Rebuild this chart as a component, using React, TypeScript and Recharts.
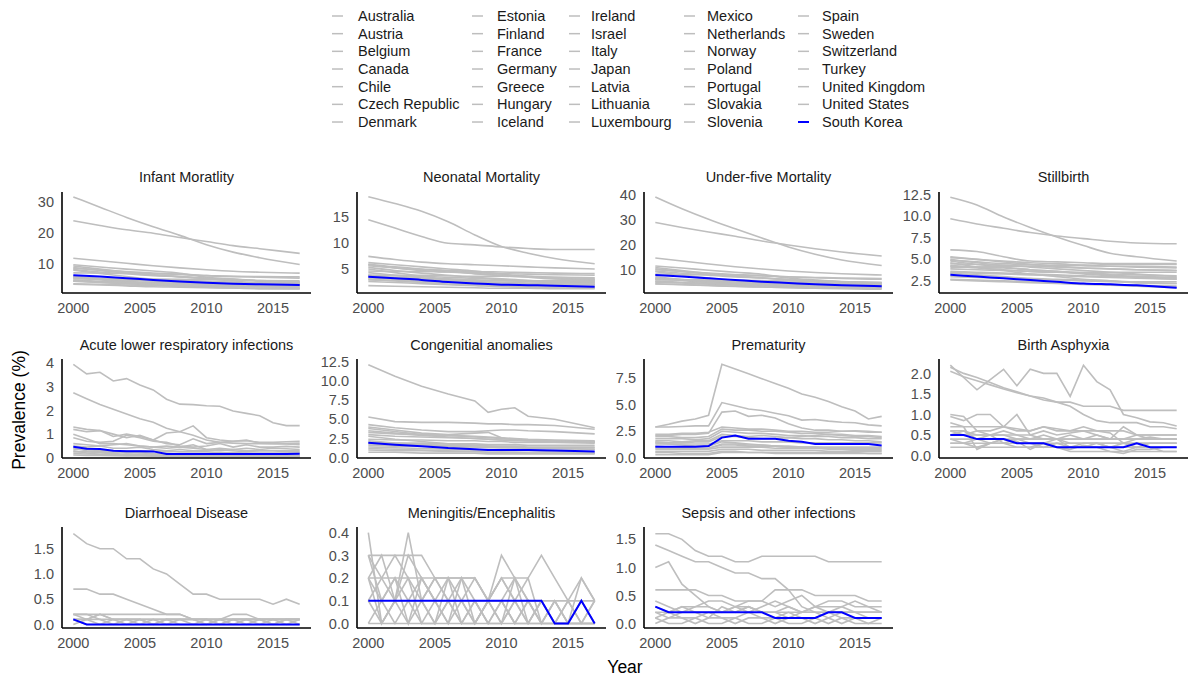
import { LineChart, Line, XAxis, YAxis } from "recharts";

const FONT = "'Liberation Sans', Arial, sans-serif";
const GREY = "#bebebe";
const BLUE = "#0000ff";
const KOREA = "South Korea";

// legend order (column-major, 7 rows)
const COUNTRIES = [
  "Australia", "Austria", "Belgium", "Canada", "Chile", "Czech Republic", "Denmark",
  "Estonia", "Finland", "France", "Germany", "Greece", "Hungary", "Iceland",
  "Ireland", "Israel", "Italy", "Japan", "Latvia", "Lithuania", "Luxembourg",
  "Mexico", "Netherlands", "Norway", "Poland", "Portugal", "Slovakia", "Slovenia",
  "Spain", "Sweden", "Switzerland", "Turkey", "United Kingdom", "United States", KOREA,
];

const YEARS = [2000, 2001, 2002, 2003, 2004, 2005, 2006, 2007, 2008, 2009, 2010, 2011, 2012, 2013, 2014, 2015, 2016, 2017];
const YEARS_COARSE = [2000, 2002, 2004, 2006, 2008, 2010, 2012, 2014, 2017];
const YEARS_CONGENITAL = [2000, 2002, 2004, 2006, 2008, 2009, 2010, 2011, 2012, 2014, 2017];
const X_TICKS = [2000, 2005, 2010, 2015];

type Series = [string, number[]];

const INFANT: Series[] = [
  ["Turkey", [31.6, 28.3, 25.0, 22.0, 19.2, 16.2, 13.8, 12.0, 9.8]],
  ["Mexico", [23.9, 22.4, 21.0, 19.9, 18.5, 17.2, 15.9, 14.9, 13.4]],
  ["Chile", [11.8, 11.0, 10.2, 9.4, 8.7, 8.1, 7.6, 7.3, 7.0]],
  ["Latvia", [9.7, 9.0, 8.3, 7.7, 7.0, 5.7, 5.1, 4.6, 4.2]],
  ["Hungary", [9.3, 8.3, 7.4, 6.4, 5.8, 5.4, 5.1, 4.5, 4.0]],
  ["Lithuania", [8.8, 7.9, 7.0, 6.5, 5.9, 5.2, 4.5, 3.8, 3.4]],
  ["Slovakia", [8.6, 8.0, 7.5, 7.0, 6.7, 6.2, 5.9, 5.7, 5.4]],
  ["Poland", [8.2, 7.4, 6.8, 6.2, 5.9, 5.3, 4.8, 4.4, 4.1]],
  ["Estonia", [8.0, 6.9, 5.9, 5.0, 4.3, 3.5, 3.0, 2.6, 2.3]],
  ["United States", [7.1, 7.0, 6.9, 6.8, 6.6, 6.2, 6.0, 5.9, 5.8]],
  ["Greece", [6.1, 5.2, 4.4, 4.0, 3.7, 3.6, 3.5, 3.5, 3.6]],
  ["Portugal", [5.8, 4.9, 4.1, 3.6, 3.4, 3.1, 3.0, 3.0, 3.0]],
  ["United Kingdom", [5.6, 5.3, 5.1, 4.9, 4.7, 4.4, 4.1, 3.9, 3.8]],
  ["Israel", [5.6, 5.2, 4.8, 4.4, 4.0, 3.7, 3.5, 3.2, 3.1]],
  ["Canada", [5.3, 5.3, 5.2, 5.1, 5.0, 4.9, 4.8, 4.6, 4.5]],
  ["Australia", [5.2, 5.0, 4.8, 4.6, 4.3, 4.0, 3.7, 3.4, 3.2]],
  ["Italy", [4.8, 4.4, 4.0, 3.7, 3.5, 3.2, 3.0, 2.9, 2.8]],
  ["Slovenia", [4.6, 4.1, 3.6, 3.2, 2.8, 2.5, 2.2, 2.0, 2.0]],
  ["France", [4.4, 4.2, 4.0, 3.8, 3.6, 3.5, 3.5, 3.5, 3.4]],
  ["Czech Republic", [4.4, 4.0, 3.6, 3.3, 3.0, 2.8, 2.7, 2.6, 2.6]],
  ["Finland", [3.6, 3.4, 3.2, 3.0, 2.7, 2.5, 2.3, 2.1, 2.0]],
  ["Japan", [3.4, 3.2, 2.9, 2.6, 2.5, 2.3, 2.2, 2.1, 2.0]],
  [KOREA, [6.3, 5.9, 5.4, 4.8, 4.3, 3.9, 3.6, 3.4, 3.2]],
];

const NEONATAL: Series[] = [
  ["Turkey", [18.8, 17.5, 16.0, 14.0, 11.5, 9.3, 8.0, 7.0, 6.0]],
  ["Mexico", [14.4, 12.8, 11.2, 9.9, 9.6, 9.2, 8.9, 8.7, 8.7]],
  ["Chile", [7.4, 6.8, 6.3, 6.0, 5.8, 5.6, 5.4, 5.2, 5.0]],
  ["Latvia", [6.2, 5.8, 5.4, 5.0, 4.6, 4.0, 3.6, 3.2, 3.0]],
  ["Hungary", [5.9, 5.4, 5.0, 4.6, 4.1, 3.8, 3.6, 3.4, 3.2]],
  ["Poland", [5.8, 5.2, 4.7, 4.4, 4.1, 3.7, 3.4, 3.1, 2.8]],
  ["Slovakia", [5.6, 5.2, 4.9, 4.7, 4.5, 4.4, 4.3, 4.2, 4.1]],
  ["Lithuania", [5.3, 4.7, 4.2, 3.8, 3.4, 3.1, 2.8, 2.6, 2.4]],
  ["Estonia", [5.0, 4.3, 3.6, 3.0, 2.6, 2.2, 1.8, 1.6, 1.5]],
  ["United States", [4.6, 4.5, 4.5, 4.4, 4.3, 4.1, 4.0, 3.9, 3.8]],
  ["Greece", [4.3, 3.8, 3.3, 3.0, 2.8, 2.7, 2.7, 2.8, 2.9]],
  ["Canada", [3.8, 3.8, 3.8, 3.7, 3.6, 3.6, 3.5, 3.4, 3.3]],
  ["United Kingdom", [3.8, 3.7, 3.6, 3.4, 3.2, 3.0, 2.8, 2.7, 2.6]],
  ["Portugal", [3.8, 3.2, 2.7, 2.4, 2.2, 2.1, 2.1, 2.1, 2.1]],
  ["Israel", [3.6, 3.3, 3.0, 2.8, 2.6, 2.4, 2.2, 2.1, 2.0]],
  ["Australia", [3.5, 3.4, 3.2, 3.1, 2.9, 2.8, 2.6, 2.4, 2.3]],
  ["Italy", [3.3, 3.0, 2.8, 2.6, 2.4, 2.3, 2.1, 2.0, 2.0]],
  ["Czech Republic", [3.1, 2.7, 2.4, 2.1, 1.9, 1.8, 1.7, 1.7, 1.7]],
  ["France", [2.9, 2.8, 2.6, 2.5, 2.4, 2.4, 2.5, 2.5, 2.6]],
  ["Finland", [2.6, 2.4, 2.2, 2.0, 1.8, 1.6, 1.5, 1.4, 1.3]],
  ["Japan", [1.8, 1.7, 1.6, 1.5, 1.4, 1.3, 1.3, 1.2, 1.2]],
  [KOREA, [3.5, 3.2, 2.9, 2.5, 2.2, 2.0, 1.9, 1.8, 1.6]],
];

const UNDER_FIVE: Series[] = [
  ["Turkey", [39.2, 34.5, 30.3, 26.5, 22.8, 19.2, 16.3, 14.0, 11.8]],
  ["Mexico", [29.0, 27.0, 25.2, 23.5, 21.6, 20.0, 18.5, 17.2, 15.6]],
  ["Chile", [14.8, 13.6, 12.4, 11.3, 10.4, 9.6, 9.0, 8.5, 8.0]],
  ["Latvia", [11.6, 10.8, 9.9, 9.1, 8.3, 6.8, 6.0, 5.4, 4.9]],
  ["Hungary", [11.0, 9.8, 8.6, 7.5, 6.8, 6.3, 5.9, 5.3, 4.7]],
  ["Lithuania", [10.5, 9.4, 8.3, 7.6, 6.9, 6.0, 5.2, 4.5, 4.0]],
  ["Slovakia", [10.1, 9.4, 8.8, 8.2, 7.8, 7.3, 6.9, 6.6, 6.3]],
  ["Poland", [9.6, 8.7, 7.9, 7.2, 6.8, 6.1, 5.5, 5.1, 4.7]],
  ["Estonia", [9.3, 8.0, 6.8, 5.8, 5.0, 4.1, 3.5, 3.0, 2.7]],
  ["United States", [8.4, 8.2, 8.1, 7.9, 7.6, 7.2, 7.0, 6.8, 6.6]],
  ["Greece", [7.3, 6.2, 5.3, 4.8, 4.4, 4.3, 4.2, 4.2, 4.3]],
  ["Portugal", [6.9, 5.8, 4.9, 4.3, 4.0, 3.7, 3.5, 3.5, 3.6]],
  ["Israel", [6.6, 6.1, 5.6, 5.2, 4.7, 4.4, 4.1, 3.8, 3.6]],
  ["United Kingdom", [6.5, 6.2, 5.9, 5.7, 5.4, 5.1, 4.8, 4.5, 4.3]],
  ["Canada", [6.2, 6.1, 6.0, 5.9, 5.8, 5.6, 5.5, 5.3, 5.1]],
  ["Australia", [6.1, 5.9, 5.6, 5.3, 5.0, 4.6, 4.3, 4.0, 3.7]],
  ["Italy", [5.6, 5.1, 4.7, 4.3, 4.0, 3.7, 3.5, 3.3, 3.2]],
  ["Czech Republic", [5.3, 4.8, 4.3, 3.9, 3.6, 3.4, 3.2, 3.1, 3.0]],
  ["France", [5.1, 4.9, 4.7, 4.5, 4.2, 4.1, 4.1, 4.0, 4.0]],
  ["Japan", [4.5, 4.2, 3.8, 3.4, 3.2, 3.0, 2.9, 2.8, 2.6]],
  ["Finland", [4.4, 4.1, 3.8, 3.5, 3.2, 2.9, 2.7, 2.5, 2.3]],
  [KOREA, [8.0, 7.4, 6.7, 6.0, 5.3, 4.8, 4.3, 3.9, 3.5]],
];

const STILLBIRTH: Series[] = [
  ["Turkey", [12.2, 11.3, 9.9, 8.7, 7.6, 6.6, 5.7, 5.3, 4.8]],
  ["Mexico", [9.7, 9.1, 8.6, 8.1, 7.7, 7.4, 7.1, 6.9, 6.8]],
  ["Chile", [6.1, 5.9, 5.3, 4.8, 4.7, 4.6, 4.5, 4.5, 4.5]],
  ["Latvia", [5.3, 5.0, 4.7, 4.4, 4.2, 4.0, 3.9, 3.8, 3.7]],
  ["Hungary", [5.2, 5.0, 4.8, 4.6, 4.5, 4.3, 4.2, 4.1, 4.0]],
  ["Poland", [5.0, 4.6, 4.3, 4.1, 3.9, 3.7, 3.5, 3.3, 3.0]],
  ["Slovakia", [4.9, 4.7, 4.5, 4.4, 4.3, 4.3, 4.2, 4.2, 4.1]],
  ["Lithuania", [4.8, 4.4, 4.1, 3.8, 3.6, 3.3, 3.1, 2.9, 2.7]],
  ["Estonia", [4.6, 4.1, 3.7, 3.3, 3.0, 2.7, 2.5, 2.3, 2.2]],
  ["France", [4.5, 4.4, 4.3, 4.2, 4.1, 4.0, 3.9, 3.8, 3.7]],
  ["Greece", [4.3, 4.0, 3.8, 3.6, 3.5, 3.5, 3.5, 3.5, 3.5]],
  ["United Kingdom", [4.2, 4.1, 4.0, 3.8, 3.6, 3.4, 3.2, 3.0, 2.8]],
  ["Switzerland", [4.1, 4.1, 4.2, 4.2, 4.3, 4.3, 4.4, 4.4, 4.4]],
  ["Canada", [3.9, 3.8, 3.7, 3.6, 3.5, 3.4, 3.3, 3.2, 3.1]],
  ["United States", [3.6, 3.5, 3.4, 3.3, 3.2, 3.1, 3.0, 3.0, 2.9]],
  ["Australia", [3.5, 3.4, 3.3, 3.2, 3.1, 3.0, 2.9, 2.8, 2.7]],
  ["Italy", [3.4, 3.2, 3.0, 2.8, 2.7, 2.6, 2.5, 2.4, 2.4]],
  ["Czech Republic", [3.0, 2.9, 2.8, 2.7, 2.6, 2.5, 2.4, 2.3, 2.2]],
  ["Japan", [2.7, 2.6, 2.5, 2.4, 2.3, 2.2, 2.1, 2.0, 1.9]],
  ["Finland", [2.6, 2.5, 2.4, 2.3, 2.2, 2.1, 2.0, 1.9, 1.7]],
  [KOREA, [3.2, 3.0, 2.8, 2.6, 2.4, 2.2, 2.1, 2.0, 1.7]],
];

const ALRI: Series[] = [
  ["Turkey", [3.95, 3.55, 3.62, 3.25, 3.35, 3.08, 2.87, 2.48, 2.27, 2.25, 2.2, 2.18, 1.98, 1.88, 1.78, 1.48, 1.36, 1.36]],
  ["Mexico", [2.75, 2.5, 2.25, 2.05, 1.85, 1.65, 1.5, 1.25, 1.1, 0.95, 0.75, 0.65, 0.62, 0.6, 0.6, 0.6, 0.58, 0.55]],
  ["Chile", [1.3, 1.2, 1.15, 1.0, 0.85, 0.95, 0.75, 1.05, 1.1, 1.35, 0.85, 0.75, 0.7, 0.72, 0.65, 0.65, 0.68, 0.7]],
  ["Latvia", [1.2, 1.1, 1.15, 0.9, 1.0, 0.9, 0.75, 0.6, 0.55, 0.8, 0.6, 0.65, 0.7, 0.75, 0.62, 0.6, 0.6, 0.62]],
  ["Lithuania", [0.85, 0.7, 0.65, 0.7, 0.95, 0.85, 0.7, 0.65, 0.5, 0.45, 0.5, 0.6, 0.45, 0.55, 0.45, 0.45, 0.48, 0.45]],
  ["Hungary", [1.0, 0.8, 0.6, 0.6, 0.55, 0.5, 0.45, 0.5, 0.45, 0.55, 0.35, 0.4, 0.35, 0.4, 0.35, 0.4, 0.38, 0.35]],
  ["Poland", [0.6, 0.55, 0.5, 0.55, 0.6, 0.5, 0.45, 0.4, 0.45, 0.4, 0.35, 0.3, 0.35, 0.3, 0.3, 0.3, 0.3, 0.3]],
  ["Slovakia", [0.5, 0.45, 0.5, 0.4, 0.4, 0.45, 0.35, 0.3, 0.35, 0.3, 0.3, 0.35, 0.3, 0.25, 0.3, 0.3, 0.25, 0.25]],
  ["United States", [0.35, 0.35, 0.3, 0.3, 0.3, 0.3, 0.28, 0.28, 0.25, 0.25, 0.25, 0.22, 0.22, 0.2, 0.2, 0.2, 0.2, 0.2]],
  ["Estonia", [0.4, 0.3, 0.25, 0.3, 0.2, 0.25, 0.15, 0.2, 0.15, 0.1, 0.15, 0.1, 0.1, 0.1, 0.08, 0.1, 0.08, 0.08]],
  ["United Kingdom", [0.25, 0.25, 0.22, 0.22, 0.2, 0.2, 0.18, 0.18, 0.16, 0.16, 0.15, 0.15, 0.14, 0.14, 0.13, 0.13, 0.12, 0.12]],
  ["Greece", [0.3, 0.2, 0.15, 0.2, 0.1, 0.15, 0.1, 0.12, 0.08, 0.1, 0.06, 0.08, 0.06, 0.06, 0.05, 0.05, 0.05, 0.05]],
  ["Canada", [0.18, 0.16, 0.15, 0.14, 0.14, 0.12, 0.12, 0.11, 0.1, 0.1, 0.1, 0.09, 0.09, 0.08, 0.08, 0.08, 0.07, 0.07]],
  ["Japan", [0.12, 0.1, 0.1, 0.09, 0.08, 0.08, 0.07, 0.06, 0.06, 0.05, 0.05, 0.04, 0.04, 0.04, 0.03, 0.03, 0.03, 0.03]],
  [KOREA, [0.47, 0.38, 0.37, 0.3, 0.28, 0.28, 0.27, 0.16, 0.16, 0.16, 0.16, 0.16, 0.16, 0.16, 0.16, 0.16, 0.16, 0.17]],
];

const CONGENITAL: Series[] = [
  ["Turkey", [12.1, 10.6, 9.3, 8.3, 7.4, 5.9, 6.3, 6.5, 5.4, 5.0, 3.9]],
  ["Mexico", [5.3, 4.7, 4.6, 4.6, 4.5, 4.4, 4.4, 4.3, 4.3, 4.2, 3.7]],
  ["Chile", [4.3, 3.9, 3.6, 3.4, 3.4, 3.5, 3.6, 3.6, 3.5, 3.4, 3.1]],
  ["Latvia", [4.0, 3.6, 3.2, 3.0, 3.2, 3.3, 2.6, 2.3, 2.2, 2.1, 2.0]],
  ["Lithuania", [3.8, 3.4, 3.0, 2.9, 2.7, 2.6, 2.5, 2.4, 2.3, 2.2, 2.1]],
  ["Hungary", [3.5, 3.2, 2.9, 2.7, 2.5, 2.4, 2.3, 2.2, 2.2, 2.1, 2.0]],
  ["Poland", [3.3, 3.1, 3.0, 2.9, 2.8, 2.7, 2.6, 2.5, 2.4, 2.3, 2.2]],
  ["Slovakia", [3.0, 2.8, 2.7, 2.6, 2.5, 2.4, 2.3, 2.3, 2.2, 2.2, 2.1]],
  ["Estonia", [2.8, 2.4, 2.1, 1.8, 1.6, 1.5, 1.4, 1.3, 1.3, 1.2, 1.1]],
  ["United States", [2.4, 2.3, 2.3, 2.2, 2.2, 2.1, 2.1, 2.0, 2.0, 2.0, 1.9]],
  ["Greece", [2.2, 1.9, 1.7, 1.5, 1.4, 1.4, 1.3, 1.3, 1.3, 1.3, 1.3]],
  ["Canada", [2.0, 1.9, 1.9, 1.8, 1.8, 1.7, 1.7, 1.7, 1.6, 1.6, 1.6]],
  ["United Kingdom", [1.8, 1.7, 1.7, 1.6, 1.6, 1.5, 1.5, 1.5, 1.4, 1.4, 1.4]],
  ["Australia", [1.6, 1.5, 1.5, 1.4, 1.4, 1.3, 1.3, 1.3, 1.2, 1.2, 1.1]],
  ["Italy", [1.4, 1.3, 1.2, 1.1, 1.0, 1.0, 0.9, 0.9, 0.9, 0.8, 0.8]],
  ["Czech Republic", [1.2, 1.1, 1.0, 0.9, 0.8, 0.7, 0.7, 0.6, 0.6, 0.6, 0.6]],
  ["Japan", [1.0, 0.9, 0.9, 0.8, 0.8, 0.7, 0.7, 0.7, 0.6, 0.6, 0.6]],
  ["Finland", [0.7, 0.7, 0.6, 0.6, 0.6, 0.5, 0.5, 0.5, 0.5, 0.5, 0.5]],
  [KOREA, [1.95, 1.7, 1.5, 1.25, 1.1, 1.0, 1.0, 1.0, 1.0, 0.95, 0.8]],
];

const PREMATURITY: Series[] = [
  ["Turkey", [2.9, 3.15, 3.45, 3.65, 4.0, 8.8, 8.35, 7.9, 7.45, 7.0, 6.55, 6.0, 5.7, 5.3, 4.8, 4.4, 3.65, 3.9]],
  ["Mexico", [2.9, 2.9, 2.95, 3.0, 3.0, 5.2, 4.9, 4.6, 4.45, 4.2, 3.95, 3.55, 3.6, 3.45, 3.35, 3.3, 3.1, 3.0]],
  ["Chile", [2.1, 2.1, 2.2, 2.2, 2.3, 4.3, 4.4, 3.9, 4.0, 3.75, 3.2, 2.8, 2.6, 2.6, 2.5, 2.55, 2.5, 2.4]],
  ["Latvia", [2.2, 2.2, 2.3, 2.3, 2.4, 2.9, 2.8, 2.7, 2.7, 2.6, 2.5, 2.5, 2.4, 2.4, 2.5, 2.5, 2.4, 2.4]],
  ["Hungary", [2.0, 2.0, 1.9, 1.9, 2.0, 2.7, 2.6, 2.6, 2.5, 2.5, 2.4, 2.3, 2.3, 2.2, 2.2, 2.1, 2.1, 2.0]],
  ["Poland", [1.8, 1.8, 1.8, 1.7, 1.8, 2.5, 2.4, 2.3, 2.3, 2.2, 2.1, 2.1, 2.0, 2.0, 1.9, 1.9, 1.8, 1.8]],
  ["Lithuania", [1.6, 1.6, 1.5, 1.6, 1.6, 2.2, 2.1, 2.0, 2.1, 2.0, 1.9, 1.8, 1.8, 1.7, 1.7, 1.6, 1.6, 1.5]],
  ["Slovakia", [1.5, 1.4, 1.4, 1.5, 1.5, 2.0, 2.0, 1.9, 1.8, 1.8, 1.9, 2.0, 2.1, 2.2, 2.1, 2.0, 2.0, 1.9]],
  ["Estonia", [1.4, 1.3, 1.2, 1.1, 1.1, 1.5, 1.4, 1.3, 1.2, 1.1, 1.0, 0.9, 0.9, 0.8, 0.8, 0.7, 0.7, 0.7]],
  ["United States", [1.3, 1.3, 1.3, 1.3, 1.3, 1.6, 1.6, 1.6, 1.5, 1.5, 1.5, 1.4, 1.4, 1.4, 1.4, 1.4, 1.4, 1.4]],
  ["Greece", [1.1, 1.0, 1.0, 0.9, 0.9, 1.3, 1.3, 1.2, 1.2, 1.1, 1.1, 1.0, 1.0, 1.0, 1.0, 1.0, 1.0, 1.0]],
  ["United Kingdom", [0.9, 0.9, 0.9, 0.9, 0.9, 1.2, 1.2, 1.1, 1.1, 1.1, 1.0, 1.0, 1.0, 0.9, 0.9, 0.9, 0.9, 0.9]],
  ["Canada", [0.8, 0.8, 0.8, 0.8, 0.8, 1.0, 1.0, 1.0, 1.0, 0.9, 0.9, 0.9, 0.9, 0.9, 0.8, 0.8, 0.8, 0.8]],
  ["Italy", [0.6, 0.6, 0.6, 0.6, 0.6, 0.8, 0.8, 0.8, 0.7, 0.7, 0.7, 0.7, 0.7, 0.6, 0.6, 0.6, 0.6, 0.6]],
  ["Finland", [0.5, 0.5, 0.4, 0.4, 0.4, 0.6, 0.6, 0.5, 0.5, 0.5, 0.5, 0.5, 0.5, 0.5, 0.5, 0.5, 0.4, 0.4]],
  ["Japan", [0.3, 0.3, 0.3, 0.3, 0.3, 0.5, 0.5, 0.5, 0.5, 0.4, 0.4, 0.4, 0.4, 0.4, 0.4, 0.4, 0.4, 0.4]],
  [KOREA, [1.05, 1.05, 1.05, 1.05, 1.1, 1.9, 2.1, 1.8, 1.8, 1.8, 1.6, 1.5, 1.3, 1.3, 1.3, 1.3, 1.3, 1.15]],
];

const ASPHYXIA: Series[] = [
  ["Turkey", [2.2, 1.9, 1.6, 1.85, 2.1, 1.7, 2.1, 2.0, 2.0, 1.44, 2.2, 1.8, 1.6, 1.0, 0.92, 0.82, 0.8, 0.72]],
  ["Mexico", [2.15, 2.0, 1.9, 1.78, 1.65, 1.55, 1.45, 1.4, 1.3, 1.3, 1.2, 1.2, 1.2, 1.1, 1.1, 1.1, 1.1, 1.1]],
  ["Chile", [2.05, 1.92, 1.82, 1.72, 1.62, 1.53, 1.45, 1.35, 1.3, 1.2, 1.0, 0.85, 0.8, 0.8, 0.8, 0.7, 0.7, 0.65]],
  ["Latvia", [1.0, 0.95, 0.6, 0.6, 0.7, 1.0, 0.5, 0.6, 0.5, 0.55, 0.6, 0.5, 0.4, 0.7, 0.5, 0.5, 0.5, 0.5]],
  ["Lithuania", [0.95, 0.85, 1.0, 1.0, 0.7, 0.65, 0.6, 0.7, 0.65, 0.6, 0.7, 0.6, 0.55, 0.3, 0.4, 0.45, 0.4, 0.4]],
  ["Hungary", [0.8, 0.7, 0.15, 0.3, 0.4, 0.35, 0.15, 0.3, 0.2, 0.15, 0.25, 0.2, 0.1, 0.05, 0.15, 0.15, 0.2, 0.2]],
  ["Poland", [0.7, 0.7, 0.7, 0.7, 0.7, 0.6, 0.6, 0.7, 0.6, 0.6, 0.6, 0.6, 0.6, 0.6, 0.5, 0.5, 0.5, 0.5]],
  ["Slovakia", [0.6, 0.5, 0.6, 0.5, 0.6, 0.5, 0.4, 0.5, 0.4, 0.5, 0.4, 0.5, 0.4, 0.4, 0.5, 0.4, 0.4, 0.4]],
  ["Italy", [0.6, 0.6, 0.5, 0.5, 0.5, 0.4, 0.4, 0.4, 0.4, 0.3, 0.3, 0.3, 0.3, 0.3, 0.3, 0.3, 0.3, 0.3]],
  ["Estonia", [0.5, 0.6, 0.4, 0.5, 0.3, 0.4, 0.3, 0.3, 0.4, 0.2, 0.3, 0.3, 0.2, 0.3, 0.2, 0.3, 0.3, 0.3]],
  ["Canada", [0.5, 0.5, 0.5, 0.5, 0.5, 0.5, 0.5, 0.4, 0.4, 0.4, 0.4, 0.4, 0.4, 0.4, 0.4, 0.4, 0.4, 0.4]],
  ["United States", [0.4, 0.4, 0.4, 0.4, 0.4, 0.4, 0.4, 0.4, 0.4, 0.4, 0.4, 0.4, 0.4, 0.4, 0.4, 0.4, 0.4, 0.4]],
  ["Czech Republic", [0.4, 0.3, 0.4, 0.3, 0.4, 0.3, 0.3, 0.2, 0.3, 0.2, 0.2, 0.3, 0.2, 0.2, 0.2, 0.2, 0.1, 0.1]],
  ["United Kingdom", [0.3, 0.3, 0.3, 0.3, 0.3, 0.3, 0.3, 0.3, 0.3, 0.3, 0.3, 0.3, 0.3, 0.3, 0.3, 0.3, 0.3, 0.3]],
  ["Greece", [0.3, 0.3, 0.2, 0.3, 0.3, 0.2, 0.2, 0.3, 0.2, 0.2, 0.2, 0.2, 0.2, 0.1, 0.2, 0.2, 0.2, 0.2]],
  ["Japan", [0.2, 0.2, 0.2, 0.2, 0.2, 0.2, 0.2, 0.2, 0.2, 0.1, 0.1, 0.1, 0.1, 0.1, 0.1, 0.1, 0.1, 0.1]],
  [KOREA, [0.5, 0.5, 0.4, 0.4, 0.4, 0.3, 0.3, 0.3, 0.2, 0.2, 0.2, 0.2, 0.2, 0.2, 0.3, 0.2, 0.2, 0.2]],
];

const DIARRHOEA: Series[] = [
  ["Turkey", [1.8, 1.6, 1.5, 1.5, 1.3, 1.3, 1.1, 1.0, 0.8, 0.6, 0.6, 0.5, 0.5, 0.5, 0.5, 0.4, 0.5, 0.4]],
  ["Mexico", [0.7, 0.7, 0.6, 0.6, 0.5, 0.4, 0.3, 0.2, 0.2, 0.1, 0.1, 0.1, 0.1, 0.1, 0.1, 0.1, 0.1, 0.1]],
  ["Chile", [0.2, 0.2, 0.2, 0.2, 0.2, 0.2, 0.2, 0.2, 0.2, 0.1, 0.1, 0.1, 0.2, 0.2, 0.1, 0.1, 0.1, 0.1]],
  ["Latvia", [0.2, 0.1, 0.2, 0.1, 0.1, 0.1, 0.1, 0.1, 0.1, 0.1, 0.1, 0.1, 0.1, 0.1, 0.1, 0.1, 0.1, 0.1]],
  ["Slovakia", [0.2, 0.2, 0.1, 0.1, 0.1, 0.1, 0.1, 0.1, 0.1, 0.1, 0.1, 0.0, 0.1, 0.1, 0.1, 0.1, 0.1, 0.1]],
  ["Estonia", [0.1, 0.1, 0.2, 0.1, 0.1, 0.1, 0.0, 0.1, 0.1, 0.0, 0.0, 0.1, 0.1, 0.1, 0.1, 0.0, 0.1, 0.1]],
  ["Lithuania", [0.1, 0.1, 0.1, 0.0, 0.1, 0.0, 0.1, 0.0, 0.1, 0.1, 0.0, 0.1, 0.0, 0.1, 0.0, 0.1, 0.0, 0.1]],
  ["Hungary", [0.0, 0.1, 0.0, 0.1, 0.0, 0.1, 0.0, 0.1, 0.0, 0.0, 0.1, 0.0, 0.1, 0.0, 0.1, 0.0, 0.1, 0.0]],
  ["Poland", [0.1, 0.0, 0.0, 0.0, 0.0, 0.0, 0.0, 0.0, 0.0, 0.0, 0.0, 0.0, 0.0, 0.0, 0.0, 0.0, 0.0, 0.0]],
  [KOREA, [0.1, 0.0, 0.0, 0.0, 0.0, 0.0, 0.0, 0.0, 0.0, 0.0, 0.0, 0.0, 0.0, 0.0, 0.0, 0.0, 0.0, 0.0]],
];

const MENINGITIS: Series[] = [
  ["Turkey", [0.4, 0.0, 0.1, 0.1, 0.1, 0.0, 0.1, 0.0, 0.1, 0.0, 0.1, 0.0, 0.0, 0.1, 0.0, 0.0, 0.0, 0.0]],
  ["Mexico", [0.3, 0.3, 0.3, 0.3, 0.3, 0.2, 0.2, 0.2, 0.2, 0.1, 0.2, 0.2, 0.2, 0.3, 0.2, 0.1, 0.2, 0.1]],
  ["Chile", [0.2, 0.2, 0.2, 0.2, 0.2, 0.2, 0.2, 0.2, 0.2, 0.1, 0.3, 0.2, 0.1, 0.1, 0.1, 0.1, 0.1, 0.1]],
  ["Latvia", [0.3, 0.2, 0.1, 0.4, 0.1, 0.2, 0.1, 0.2, 0.0, 0.1, 0.2, 0.1, 0.2, 0.0, 0.1, 0.0, 0.1, 0.1]],
  ["Lithuania", [0.2, 0.3, 0.1, 0.3, 0.2, 0.1, 0.0, 0.1, 0.2, 0.1, 0.0, 0.2, 0.1, 0.0, 0.0, 0.1, 0.0, 0.0]],
  ["Hungary", [0.1, 0.2, 0.3, 0.2, 0.1, 0.0, 0.2, 0.1, 0.0, 0.1, 0.2, 0.1, 0.0, 0.1, 0.1, 0.0, 0.1, 0.0]],
  ["Poland", [0.0, 0.1, 0.2, 0.1, 0.0, 0.1, 0.0, 0.2, 0.1, 0.0, 0.1, 0.0, 0.1, 0.0, 0.1, 0.0, 0.0, 0.1]],
  ["Slovakia", [0.2, 0.1, 0.0, 0.1, 0.2, 0.1, 0.1, 0.0, 0.1, 0.1, 0.0, 0.1, 0.0, 0.1, 0.0, 0.1, 0.1, 0.0]],
  ["Estonia", [0.1, 0.0, 0.1, 0.0, 0.1, 0.2, 0.1, 0.1, 0.0, 0.1, 0.1, 0.0, 0.1, 0.0, 0.0, 0.0, 0.2, 0.1]],
  ["Greece", [0.3, 0.1, 0.2, 0.0, 0.2, 0.1, 0.2, 0.0, 0.0, 0.1, 0.1, 0.2, 0.0, 0.0, 0.1, 0.1, 0.0, 0.0]],
  ["United States", [0.2, 0.0, 0.1, 0.2, 0.0, 0.0, 0.1, 0.1, 0.1, 0.0, 0.0, 0.1, 0.1, 0.1, 0.0, 0.0, 0.0, 0.1]],
  ["Japan", [0.0, 0.0, 0.0, 0.0, 0.0, 0.0, 0.0, 0.0, 0.0, 0.0, 0.0, 0.0, 0.0, 0.0, 0.0, 0.0, 0.0, 0.0]],
  [KOREA, [0.1, 0.1, 0.1, 0.1, 0.1, 0.1, 0.1, 0.1, 0.1, 0.1, 0.1, 0.1, 0.1, 0.1, 0.0, 0.0, 0.1, 0.0]],
];

const SEPSIS: Series[] = [
  ["Turkey", [1.6, 1.6, 1.5, 1.3, 1.2, 1.2, 1.1, 1.1, 1.2, 1.2, 1.2, 1.2, 1.2, 1.1, 1.1, 1.1, 1.1, 1.1]],
  ["Mexico", [1.4, 1.3, 1.2, 1.1, 1.1, 1.0, 0.9, 0.9, 0.8, 0.8, 0.6, 0.3, 0.2, 0.2, 0.2, 0.2, 0.2, 0.2]],
  ["Chile", [1.0, 1.1, 0.7, 0.5, 0.3, 0.2, 0.2, 0.3, 0.2, 0.2, 0.2, 0.2, 0.2, 0.2, 0.2, 0.2, 0.1, 0.1]],
  ["Latvia", [0.6, 0.6, 0.6, 0.6, 0.5, 0.5, 0.4, 0.4, 0.4, 0.6, 0.6, 0.6, 0.5, 0.5, 0.5, 0.5, 0.4, 0.4]],
  ["Lithuania", [0.4, 0.3, 0.2, 0.3, 0.4, 0.4, 0.3, 0.4, 0.4, 0.3, 0.4, 0.5, 0.3, 0.4, 0.4, 0.3, 0.3, 0.3]],
  ["Hungary", [0.3, 0.2, 0.3, 0.3, 0.3, 0.2, 0.3, 0.2, 0.3, 0.4, 0.3, 0.2, 0.3, 0.3, 0.3, 0.4, 0.3, 0.2]],
  ["Poland", [0.2, 0.2, 0.3, 0.2, 0.2, 0.2, 0.3, 0.3, 0.2, 0.2, 0.3, 0.2, 0.3, 0.2, 0.3, 0.2, 0.2, 0.2]],
  ["Slovakia", [0.2, 0.1, 0.2, 0.2, 0.1, 0.3, 0.2, 0.3, 0.2, 0.2, 0.1, 0.2, 0.2, 0.1, 0.2, 0.2, 0.2, 0.2]],
  ["Estonia", [0.1, 0.2, 0.1, 0.1, 0.2, 0.1, 0.1, 0.2, 0.1, 0.1, 0.2, 0.1, 0.1, 0.2, 0.1, 0.1, 0.1, 0.1]],
  ["Greece", [0.0, 0.1, 0.1, 0.0, 0.1, 0.1, 0.0, 0.1, 0.1, 0.0, 0.1, 0.1, 0.0, 0.1, 0.0, 0.1, 0.0, 0.1]],
  ["Japan", [0.1, 0.0, 0.0, 0.1, 0.0, 0.0, 0.1, 0.0, 0.0, 0.1, 0.0, 0.0, 0.1, 0.0, 0.1, 0.0, 0.0, 0.0]],
  [KOREA, [0.3, 0.2, 0.2, 0.2, 0.2, 0.2, 0.2, 0.2, 0.2, 0.1, 0.1, 0.1, 0.1, 0.2, 0.2, 0.1, 0.1, 0.1]],
];

type Panel = {
  title: string;
  years: number[];
  series: Series[];
  domain: [number, number];
  ticks: number[];
  decimals: number;
  curve: "linear" | "monotone";
};

const PANELS: Panel[] = [
  { title: "Infant Moratlity", years: YEARS_COARSE, series: INFANT, domain: [0.6, 33.2], ticks: [10, 20, 30], decimals: 0, curve: "monotone" },
  { title: "Neonatal Mortality", years: YEARS_COARSE, series: NEONATAL, domain: [0.4, 19.7], ticks: [5, 10, 15], decimals: 0, curve: "monotone" },
  { title: "Under-five Mortality", years: YEARS_COARSE, series: UNDER_FIVE, domain: [0.8, 41.2], ticks: [10, 20, 30, 40], decimals: 0, curve: "monotone" },
  { title: "Stillbirth", years: YEARS_COARSE, series: STILLBIRTH, domain: [1.1, 12.8], ticks: [2.5, 5, 7.5, 10, 12.5], decimals: 1, curve: "monotone" },
  { title: "Acute lower respiratory infections", years: YEARS, series: ALRI, domain: [-0.01, 4.18], ticks: [0, 1, 2, 3, 4], decimals: 0, curve: "linear" },
  { title: "Congenitial anomalies", years: YEARS_CONGENITAL, series: CONGENITAL, domain: [-0.04, 12.85], ticks: [0, 2.5, 5, 7.5, 10, 12.5], decimals: 1, curve: "linear" },
  { title: "Prematurity", years: YEARS, series: PREMATURITY, domain: [-0.02, 9.3], ticks: [0, 2.5, 5, 7.5], decimals: 1, curve: "linear" },
  { title: "Birth Asphyxia", years: YEARS, series: ASPHYXIA, domain: [-0.06, 2.35], ticks: [0, 0.5, 1, 1.5, 2], decimals: 1, curve: "linear" },
  { title: "Diarrhoeal Disease", years: YEARS, series: DIARRHOEA, domain: [-0.07, 1.93], ticks: [0, 0.5, 1, 1.5], decimals: 1, curve: "linear" },
  { title: "Meningitis/Encephalitis", years: YEARS, series: MENINGITIS, domain: [-0.02, 0.425], ticks: [0, 0.1, 0.2, 0.3, 0.4], decimals: 1, curve: "linear" },
  { title: "Sepsis and other infections", years: YEARS, series: SEPSIS, domain: [-0.08, 1.72], ticks: [0, 0.5, 1, 1.5], decimals: 1, curve: "linear" },
];

const COL_LEFT = [62, 357, 644, 939];
const ROWS = [
  { top: 192, height: 101, titleY: 177 },
  { top: 359, height: 99, titleY: 345 },
  { top: 527, height: 101, titleY: 513 },
];
const PLOT_W = 249;
const Y_AXIS_W = 50;
const X_AXIS_H = 30;
const TOP_PAD = 10; // room for the top tick label

const tickStyle = { fill: "#4d4d4d", fontSize: 14.5, fontFamily: FONT };

function SmallPanel({ panel, index }: { panel: Panel; index: number }) {
  const col = index % 4;
  const row = ROWS[Math.floor(index / 4)];
  const left = COL_LEFT[col];

  const data = panel.years.map((year, i) => {
    const point: Record<string, number> = { year };
    panel.series.forEach(([name, values]) => {
      point[name] = values[i];
    });
    return point;
  });

  return (
    <>
      <div
        style={{
          position: "absolute",
          left,
          width: PLOT_W,
          top: row.titleY - 9,
          lineHeight: "18px",
          textAlign: "center",
          fontSize: 14.5,
          color: "#1a1a1a",
          whiteSpace: "nowrap",
        }}
      >
        {panel.title}
      </div>
      <div style={{ position: "absolute", left: left - Y_AXIS_W, top: row.top - TOP_PAD }}>
        <LineChart
          width={Y_AXIS_W + PLOT_W}
          height={row.height + X_AXIS_H + TOP_PAD}
          data={data}
          margin={{ top: TOP_PAD, right: 0, bottom: 0, left: 0 }}
        >
          <XAxis
            dataKey="year"
            type="number"
            domain={[1999.15, 2017.85]}
            ticks={X_TICKS}
            interval={0}
            allowDataOverflow
            height={X_AXIS_H}
            tickLine={false}
            tickMargin={4}
            axisLine={{ stroke: "#000", strokeWidth: 1.6 }}
            tick={tickStyle}
          />
          <YAxis
            type="number"
            domain={panel.domain}
            ticks={panel.ticks}
            interval={0}
            allowDataOverflow
            width={Y_AXIS_W}
            tickLine={false}
            axisLine={{ stroke: "#000", strokeWidth: 1.6 }}
            tick={tickStyle}
            tickFormatter={(v: number) => v.toFixed(panel.decimals)}
          />
          {panel.series.map(([name]) => (
            <Line
              key={name}
              type={panel.curve}
              dataKey={name}
              stroke={name === KOREA ? BLUE : GREY}
              strokeWidth={name === KOREA ? 2 : 1.6}
              dot={false}
              activeDot={false}
              isAnimationActive={false}
            />
          ))}
        </LineChart>
      </div>
    </>
  );
}

const LEGEND_KEY_X = [332, 472, 569, 684, 798];
const LEGEND_TEXT_X = [358, 497, 591, 707, 822];

function CountryLegend() {
  return (
    <svg width={1190} height={140} style={{ position: "absolute", left: 0, top: 0 }}>
      {COUNTRIES.map((name, i) => {
        const col = Math.floor(i / 7);
        const y = 16 + (i % 7) * 17.67;
        const isKorea = name === KOREA;
        return (
          <g key={name}>
            <line
              x1={LEGEND_KEY_X[col]}
              x2={LEGEND_KEY_X[col] + 11}
              y1={y}
              y2={y}
              stroke={isKorea ? BLUE : GREY}
              strokeWidth={isKorea ? 2 : 1.5}
            />
            <text
              x={LEGEND_TEXT_X[col]}
              y={y}
              dominantBaseline="central"
              fontSize={14.5}
              fontFamily={FONT}
              fill="#1a1a1a"
            >
              {name}
            </text>
          </g>
        );
      })}
    </svg>
  );
}

export default function App() {
  return (
    <div
      style={{
        position: "absolute",
        left: 0,
        top: 0,
        width: 1190,
        height: 679,
        background: "#fff",
        fontFamily: FONT,
        overflow: "hidden",
      }}
    >
      <CountryLegend />
      {PANELS.map((panel, i) => (
        <SmallPanel key={panel.title} panel={panel} index={i} />
      ))}
      <div
        style={{
          position: "absolute",
          left: 19 - 80,
          top: 410 - 11,
          width: 160,
          lineHeight: "22px",
          textAlign: "center",
          fontSize: 17.5,
          color: "#000",
          transform: "rotate(-90deg)",
        }}
      >
        Prevalence (%)
      </div>
      <div
        style={{
          position: "absolute",
          left: 625 - 40,
          top: 667 - 11,
          width: 80,
          lineHeight: "22px",
          textAlign: "center",
          fontSize: 17.5,
          color: "#000",
        }}
      >
        Year
      </div>
    </div>
  );
}
